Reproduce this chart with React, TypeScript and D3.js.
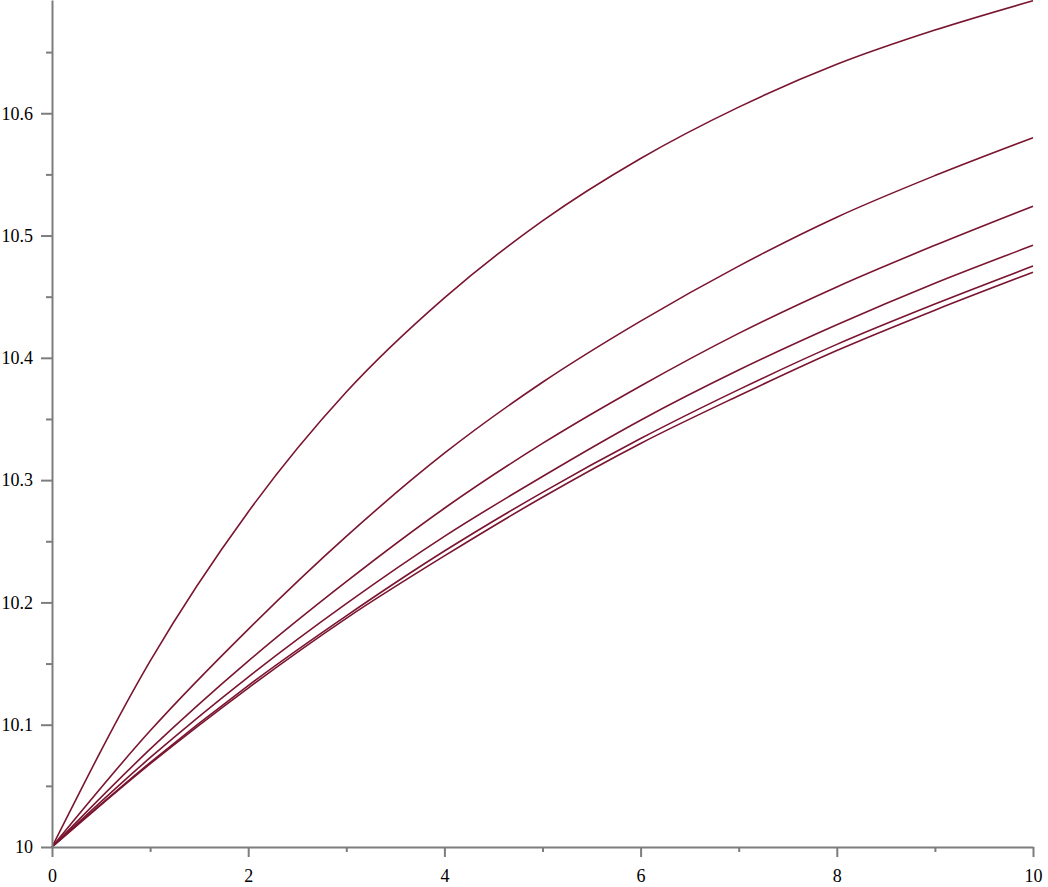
import React, { useRef, useEffect } from 'react';
import * as d3 from 'd3';

// time steps and the six curves
const times = [0, 1, 2, 3, 4, 5, 6, 7, 8, 9, 10];
const curve1 = [10, 10.152, 10.274, 10.372, 10.449, 10.512, 10.563, 10.605, 10.64, 10.668, 10.692];
const curve2 = [10, 10.095, 10.178, 10.254, 10.322, 10.38, 10.43, 10.475, 10.515, 10.549, 10.58];
const curve3 = [10, 10.08, 10.152, 10.217, 10.277, 10.33, 10.377, 10.42, 10.458, 10.492, 10.524];
const curve4 = [10, 10.073, 10.139, 10.199, 10.254, 10.303, 10.349, 10.39, 10.427, 10.461, 10.492];
const curve5 = [10, 10.069, 10.132, 10.189, 10.242, 10.29, 10.334, 10.374, 10.411, 10.444, 10.475];
const curve6 = [10, 10.068, 10.13, 10.187, 10.238, 10.286, 10.33, 10.369, 10.406, 10.439, 10.47];

const xMajor = [0, 2, 4, 6, 8, 10];
const xMinor = [1, 3, 5, 7, 9];
const yMajor = [10, 10.1, 10.2, 10.3, 10.4, 10.5, 10.6];
const yMinor = [10.05, 10.15, 10.25, 10.35, 10.45, 10.55, 10.65];

export default function App() {
  const ref = useRef<HTMLDivElement>(null);

  useEffect(() => {
    const width = 1048;
    const height = 887;
    const left = 52;
    const right = 1033;
    const bottom = 847;
    const axisColor = '#7d7d7d';
    const lineColor = '#7a1530';
    const font = '"Liberation Serif", "Times New Roman", serif';

    const svg = d3
      .select(ref.current)
      .call((g) => g.select('svg').remove())
      .append('svg')
      .attr('width', width)
      .attr('height', height)
      .style('position', 'absolute')
      .style('left', '0px')
      .style('top', '0px')
      .style('background', '#fff');

    const x = d3.scaleLinear().domain([0, 10]).range([left, right]);
    const y = d3.scaleLinear().domain([10, 10.6926]).range([bottom, 0]);

    const series = [curve1, curve2, curve3, curve4, curve5, curve6];
    const line = d3
      .line<number>()
      .x((_, i) => x(times[i]))
      .y((d) => y(d))
      .curve(d3.curveMonotoneX);

    svg
      .append('clipPath')
      .attr('id', 'plot-clip')
      .append('rect')
      .attr('x', 0)
      .attr('y', 0)
      .attr('width', width)
      .attr('height', bottom + 2);

    const plot = svg.append('g').attr('clip-path', 'url(#plot-clip)');
    series.forEach((s) => {
      plot
        .append('path')
        .datum(s)
        .attr('fill', 'none')
        .attr('stroke', lineColor)
        .attr('stroke-width', 1.6)
        .attr('stroke-linejoin', 'round')
        .attr('d', line);
    });

    const styleAxis = (g) => {
      g.attr('font-family', font).attr('font-size', 18);
      g.selectAll('path, line').attr('stroke', axisColor).attr('stroke-width', 2);
      g.selectAll('text').attr('fill', '#000');
    };

    // x axis
    svg
      .append('g')
      .attr('transform', `translate(0, ${bottom})`)
      .call(d3.axisBottom(x).tickValues(xMinor).tickSize(5).tickSizeOuter(0).tickFormat(() => ''))
      .call(styleAxis);
    svg
      .append('g')
      .attr('transform', `translate(0, ${bottom})`)
      .call(d3.axisBottom(x).tickValues(xMajor).tickSize(10).tickSizeOuter(0).tickPadding(12).tickFormat(d3.format('d')))
      .call(styleAxis)
      .call((g) => g.select('.domain').remove());

    // y axis
    svg
      .append('g')
      .attr('transform', `translate(${left}, 0)`)
      .call(d3.axisLeft(y).tickValues(yMinor).tickSize(6).tickSizeOuter(0).tickFormat(() => ''))
      .call(styleAxis);
    svg
      .append('g')
      .attr('transform', `translate(${left}, 0)`)
      .call(d3.axisLeft(y).tickValues(yMajor).tickSize(11).tickSizeOuter(0).tickPadding(8).tickFormat((d) => d3.format('.1~f')(d)))
      .call(styleAxis)
      .call((g) => g.select('.domain').remove());
  }, []);

  return <div ref={ref}></div>;
}
